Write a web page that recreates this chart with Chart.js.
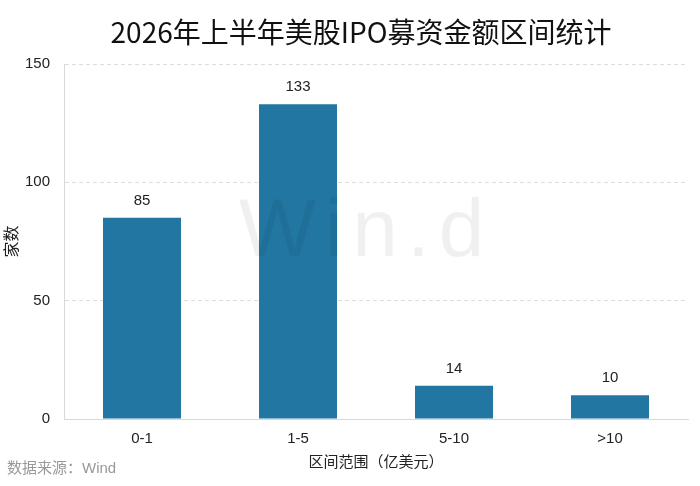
<!DOCTYPE html>
<html>
<head>
<meta charset="utf-8">
<script src="https://cdn.jsdelivr.net/npm/chart.js@4"></script>
<style>
  html, body { margin: 0; padding: 0; background: #fff; }
  #wrap { width: 700px; height: 486px; }
</style>
</head>
<body>
<div id="wrap"><canvas id="chart"></canvas></div>
<script>
const categories = ["0-1", "1-5", "5-10", ">10"];
const counts = [85, 133, 14, 10];
const yTicks = [0, 50, 100, 150];
const chartTitle = "2026年上半年美股IPO募资金额区间统计";
const sourceNote = "数据来源：Wind";

const FONT = '"Liberation Sans", "Noto Sans CJK SC", sans-serif';
const TITLE_FONT = '"Liberation Sans Narrow", "Noto Sans CJK SC", sans-serif';

// title, value labels above the bars, the Wind watermark and the source note
const extras = {
  id: "extras",
  afterDatasetsDraw(chart) {
    const ctx = chart.ctx;
    const meta = chart.getDatasetMeta(0);
    ctx.save();
    ctx.fillStyle = "#222";
    ctx.font = "15px " + FONT;
    ctx.textAlign = "center";
    ctx.textBaseline = "middle";
    meta.data.forEach((bar, i) => {
      ctx.fillText(String(counts[i]), bar.x, bar.y - 17);
    });

    ctx.fillStyle = "rgba(0, 0, 0, 0.06)";
    ctx.font = "82px " + FONT;
    ctx.letterSpacing = "9px";
    ctx.fillText("Win.d", 366, 233);
    ctx.restore();
  },
  afterDraw(chart) {
    const ctx = chart.ctx;
    ctx.save();
    ctx.textBaseline = "middle";

    ctx.fillStyle = "#111";
    ctx.font = "28px " + TITLE_FONT;
    ctx.textAlign = "center";
    ctx.fillText(chartTitle, 361, 32);

    ctx.fillStyle = "#999";
    ctx.font = "15px " + FONT;
    ctx.textAlign = "left";
    ctx.fillText(sourceNote, 7, 469);
    ctx.restore();
  }
};

new Chart(document.getElementById("chart"), {
  type: "bar",
  data: {
    labels: categories,
    datasets: [{
      data: counts,
      backgroundColor: "#2276A2",
      barPercentage: 0.5,
      categoryPercentage: 1.0
    }]
  },
  options: {
    responsive: true,
    maintainAspectRatio: false,
    animation: false,
    layout: { padding: { left: 3, right: 12, top: 64, bottom: 14 } },
    plugins: {
      legend: { display: false },
      tooltip: { enabled: false },
      title: { display: false }
    },
    scales: {
      x: {
        afterFit(scale) {
          scale.height = 53;
        },
        grid: { display: false, drawTicks: false },
        border: { color: "#d9d9d9" },
        ticks: { color: "#222", font: { family: FONT, size: 15 }, padding: 11 },
        title: {
          display: true,
          text: "区间范围（亿美元）",
          color: "#222",
          font: { family: FONT, size: 15 },
          padding: { top: 0, bottom: 0 }
        }
      },
      y: {
        min: 0,
        max: 150,
        afterBuildTicks(scale) {
          scale.ticks = yTicks.map(v => ({ value: v }));
        },
        afterFit(scale) {
          scale.width = 61;
        },
        grid: {
          color: "#dddddd",
          drawTicks: false
        },
        border: { color: "#d9d9d9", dash: [4, 3] },
        ticks: { color: "#222", font: { family: FONT, size: 15 }, padding: 14 },
        title: {
          display: true,
          text: "家数",
          color: "#222",
          font: { family: FONT, size: 16 },
          padding: { top: 0, bottom: 0 }
        }
      }
    }
  },
  plugins: [extras]
});
</script>
</body>
</html>
